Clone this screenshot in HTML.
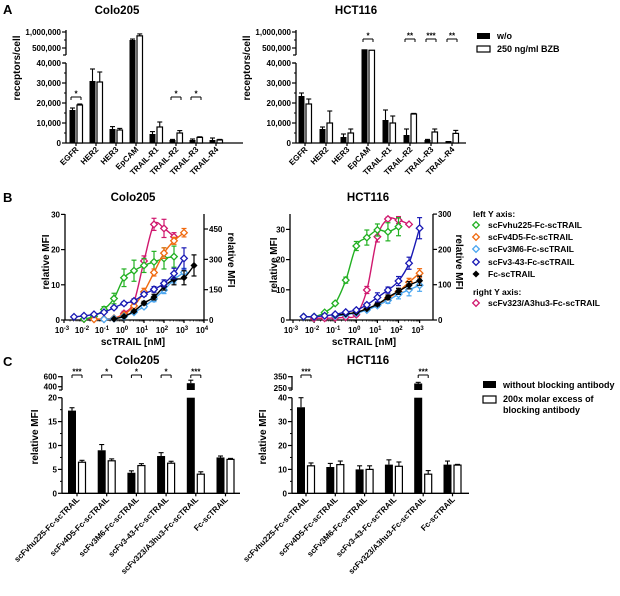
<!DOCTYPE html>
<html><head><meta charset="utf-8"><style>
html,body{margin:0;padding:0;background:#fff;}
svg{display:block;font-family:"Liberation Sans",Arial,sans-serif;font-weight:bold;}
</style></head><body>
<svg id="fig" width="620" height="596" viewBox="0 0 620 596">
<text x="3" y="14" font-size="13">A</text>
<text x="3" y="202" font-size="13">B</text>
<text x="3" y="366" font-size="13">C</text>
<text x="117" y="14" font-size="11.5" text-anchor="middle">Colo205</text>
<text x="356" y="14" font-size="11.5" text-anchor="middle">HCT116</text>
<text x="133" y="201" font-size="11.5" text-anchor="middle">Colo205</text>
<text x="368" y="201" font-size="11.5" text-anchor="middle">HCT116</text>
<text x="137" y="364" font-size="11.5" text-anchor="middle">Colo205</text>
<text x="368" y="364" font-size="11.5" text-anchor="middle">HCT116</text>
<text transform="translate(20,68) rotate(-90)" font-size="10" text-anchor="middle">receptors/cell</text>
<text transform="translate(250,68) rotate(-90)" font-size="10" text-anchor="middle">receptors/cell</text>
<text transform="translate(49,262) rotate(-90)" font-size="10" text-anchor="middle">relative MFI</text>
<text transform="translate(228,260) rotate(90)" font-size="10" text-anchor="middle">relative MFI</text>
<text transform="translate(277,265) rotate(-90)" font-size="10" text-anchor="middle">relative MFI</text>
<text transform="translate(456,262) rotate(90)" font-size="10" text-anchor="middle">relative MFI</text>
<text x="133" y="345" font-size="10" text-anchor="middle">scTRAIL [nM]</text>
<text x="364" y="345" font-size="10" text-anchor="middle">scTRAIL [nM]</text>
<text transform="translate(38,437) rotate(-90)" font-size="10" text-anchor="middle">relative MFI</text>
<text transform="translate(266,437) rotate(-90)" font-size="10" text-anchor="middle">relative MFI</text>
<g>
<rect x="477" y="33" width="13" height="6" fill="#000"/>
<text x="497" y="39" font-size="9">w/o</text>
<rect x="477" y="46" width="13" height="6" fill="#fff" stroke="#000" stroke-width="1.2"/>
<text x="497" y="52" font-size="9">250 ng/ml BZB</text>
</g>
<g>
<rect x="483" y="381" width="13" height="7" fill="#000"/>
<text x="503" y="388" font-size="9">without blocking antibody</text>
<rect x="483" y="396" width="13" height="7" fill="#fff" stroke="#000" stroke-width="1.2"/>
<text x="503" y="402" font-size="9">200x molar excess of</text>
<text x="503" y="413" font-size="9">blocking antibody</text>
</g>
<g id="legB">
<text x="473" y="217" font-size="8.5">left Y axis:</text>
<text x="473" y="295" font-size="8.5">right Y axis:</text>
</g>
</svg>
<script>
// ---------- DATA ----------
const catsA = ['EGFR','HER2','HER3','EpCAM','TRAIL-R1','TRAIL-R2','TRAIL-R3','TRAIL-R4'];
const coloWo = [16500,31000,7000,750000,4500,1500,1500,1500];
const coloWoErr = [1000,6000,1200,30000,1200,300,500,1000];
const coloBzb = [19000,30500,6500,880000,8000,5000,2800,1500];
const coloBzbErr = [500,5000,800,60000,2500,1200,300,300];
const coloSigA = ['*','','','','','*','*',''];
const hctWo = [23500,7000,3000,460000,11500,4000,1500,1000];
const hctWoErr = [1500,1000,1500,8000,5000,3000,300,200];
const hctBzb = [19500,10000,5000,430000,10000,14500,5500,4800];
const hctBzbErr = [2500,6000,2000,5000,3500,300,1500,1500];
const hctSigA = ['','','','*','','**','***','**'];
const tickLowA = [0,10000,20000,30000,40000];
const tickLowALabels = ['0','10,000','20,000','30,000','40,000'];
const tickUpA = [500000,1000000];
const tickUpALabels = ['500,000','1,000,000'];

const seriesNames = ['scFvhu225-Fc-scTRAIL','scFv4D5-Fc-scTRAIL','scFv3M6-Fc-scTRAIL','scFv3-43-Fc-scTRAIL','Fc-scTRAIL','scFv323/A3hu3-Fc-scTRAIL'];
const seriesColors = ['#22b022','#f06a10','#4aa6f0','#1a1ab4','#000000','#d0186e'];
const cGreenX=[-2,-1.5,-1,-0.5,0,0.5,1,1.5,2,2.5];
const cGreenY=[0.3,1,3,6.1,12,14,15.5,16.5,17.5,18];
const cGreenE=[0,0.3,0.8,1.5,2.5,3,2,3,3,3];
const cOrangeX=[-1.5,-1,-0.5,0,0.5,1,1.5,2,2.5,3];
const cOrangeY=[0.2,0.3,0.5,1.5,4,8,13.5,19,22.5,24.8];
const cOrangeE=[0,0,0.2,0.3,0.5,1,1,1.5,1,1.2];
const cLightX=[-1,-0.5,0,0.5,1,1.5,2,2.5,3];
const cLightY=[0.2,0.4,1,2.2,3.8,6,8.5,11.5,13.5];
const cLightE=[0,0,0.2,0.3,0.5,0.8,1,1,1.2];
const cBlueX=[-2.5,-2,-1.5,-1,-0.5,0,0.5,1,1.5,2,2.5,3];
const cBlueY=[0.9,1.2,1.6,2.2,3.5,4.7,5.4,7.3,8.7,10.4,13.2,17.5];
const cBlueE=[0.2,0.2,0.2,0.3,0.4,0.5,0.5,0.6,0.8,1,1.5,3];
const cBlackX=[-0.5,0,0.5,1,1.5,2,2.5,3,3.5];
const cBlackY=[0.3,1,2.5,4.8,6.5,9.5,11.5,12,15.5];
const cBlackE=[0,0,0.3,0.5,0.8,1,1.5,2,3];
const cMagX=[-2,-1.5,-1,-0.5,0,0.5,1,1.5,2,2.5];
const cMagY=[5,5,5,8,33,90,292,473,453,412];
const cMagE=[0,0,0,5,10,15,25,30,45,20];
const hGreenX=[-2.5,-2,-1.5,-1,-0.5,0,0.5,1,1.5,2];
const hGreenY=[1.1,1.1,2.5,5.5,13.2,24.5,27.3,29.8,29.2,30.9];
const hGreenE=[0,0,0.3,0.5,1,1.5,2.5,2,3,3];
const hOrangeX=[-1,-0.5,0,0.5,1,1.5,2,2.5,3];
const hOrangeY=[1.5,2,2.5,3.5,5,7.2,9.4,12.5,15.5];
const hOrangeE=[0.2,0.2,0.3,0.3,0.5,0.8,1,1.3,1.5];
const hLightX=[-1,-0.5,0,0.5,1,1.5,2,2.5,3];
const hLightY=[1.3,1.8,2.3,3.3,4.8,6.5,8.5,10,11.5];
const hLightE=[0.2,0.2,0.3,0.3,0.5,1,1.5,2,2];
const hBlueX=[-2.5,-2,-1.5,-1,-0.5,0,0.5,1,1.5,2,2.5,3];
const hBlueY=[1.1,1.1,1.4,1.9,2.6,3.3,5,7.5,9.9,12.9,18.8,30.4];
const hBlueE=[0.2,0.2,0.2,0.3,0.3,0.4,0.6,1.5,1,1.5,2,3.5];
const hBlackX=[-1,-0.5,0,0.5,1,1.5,2,2.5,3];
const hBlackY=[1.5,2,2.5,3.7,5.2,7.5,9.5,11.5,13];
const hBlackE=[0.2,0.2,0.2,0.3,0.5,0.8,1,1.2,1.5];
const hMagX=[-2,-1.5,-1,-0.5,0,0.5,1,1.5,2,2.5];
const hMagY=[5,5,6,8,15,85,236,286,283,271];
const hMagE=[0,0,0,0,5,10,15,5,10,0];
const tickLeftB=[0,10,20,30];
const tickRightColo=[0,150,300,450];
const tickRightHct=[0,100,200,300];
const decadesColo=[-3,-2,-1,0,1,2,3,4];
const decadesHct=[-3,-2,-1,0,1,2,3];

const catsC = ['scFvhu225-Fc-scTRAIL','scFv4D5-Fc-scTRAIL','scFv3M6-Fc-scTRAIL','scFv3-43-Fc-scTRAIL','scFv323/A3hu3-Fc-scTRAIL','Fc-scTRAIL'];
const coloNoBlock=[17.3,9,4.3,7.8,470,7.5];
const coloNoBlockErr=[0.6,1.2,0.4,0.7,60,0.3];
const coloBlock=[6.5,6.8,5.8,6.3,4.0,7.1];
const coloBlockErr=[0.4,0.4,0.4,0.4,0.5,0.2];
const coloSigC=['***','*','*','*','***',''];
const hctNoBlock=[36,11,10,12,290,12];
const hctNoBlockErr=[4,1.5,1.5,2,10,1.5];
const hctBlock=[11.5,12,10,11.3,8,11.8];
const hctBlockErr=[1.2,1.5,1.5,1.8,1.5,0.3];
const hctSigC=['***','','','','***',''];
const coloTicksC=[0,5,10,15,20]; const coloTicksCUp=[400,600];
const hctTicksC=[0,10,20,30,40]; const hctTicksCUp=[250,350];

// ---------- HELPERS ----------
const NS='http://www.w3.org/2000/svg';
const svg=document.getElementById('fig');
function mk(tag,attrs,parent){const e=document.createElementNS(NS,tag);for(const k in attrs)e.setAttribute(k,attrs[k]);(parent||svg).appendChild(e);return e;}
function line(x1,y1,x2,y2,name,w,col,parent){const l=mk('line',{x1:x1,y1:y1,x2:x2,y2:y2,stroke:col||'#000','stroke-width':w||1.2},parent);


return l;}
function txt(x,y,s,size,anchor,name,parent){const t=mk('text',{x:x,y:y,'font-size':size,'text-anchor':anchor||'start'},parent);t.textContent=s;


return t;}
function errUp(x,ytop,yerr,name,parent,col){if(Math.abs(ytop-yerr)<0.5)return;line(x,ytop,x,yerr,name,1.1,col,parent);line(x-2.5,yerr,x+2.5,yerr,name+'-cap',1.1,col,parent);}
function bracket(c,y,half,s,name){line(c-half,y+3,c-half,y,name,1,'#000');line(c+half,y+3,c+half,y,name,1,'#000');line(c-half,y,c+half,y,name,1,'#000');txt(c,y-0.5,s,8,'middle',name+'-stars');}

// ---------- PANEL A ----------
function panelA(P,wo,woE,bzb,bzbE,sig,sigY){
 const g=mk('g',{});  
 const y=v=> v<=40000 ? 143 - v*0.002 : 48 - (v-500000)*16/500000;
 line(P.ax,143,P.ax,63,'y-axis-lower',1.3,'#000',g);
 line(P.ax,55,P.ax,30,'y-axis-upper',1.3,'#000',g);
 line(P.ax-3,55,P.ax,55,'y-axis-break',1.2,'#000',g);
 line(P.ax-3,63,P.ax,63,'y-axis-break',1.2,'#000',g);
 line(P.ax,143,P.end,143,'x-axis',1.3,'#000',g);
 tickLowA.forEach((v,i)=>{line(P.ax-4,y(v),P.ax,y(v),'y-tick',1.2,'#000',g);txt(P.ax-5,y(v)+3,tickLowALabels[i],8,'end','y-tick-label',g);
  if(i<4){line(P.ax-2,y(v+5000),P.ax,y(v+5000),'y-minor-tick',1,'#000',g);}});
 tickUpA.forEach((v,i)=>{line(P.ax-4,y(v),P.ax,y(v),'y-tick',1.2,'#000',g);txt(P.ax-5,y(v)+3,tickUpALabels[i],8,'end','y-tick-label',g);});
 [750000].forEach(v=>line(P.ax-2,y(v),P.ax,y(v),'y-minor-tick',1,'#000',g));
 catsA.forEach((c,i)=>{
  const t=P.t0+i*P.dt;
  line(t,143,t,146,'x-tick',1.2,'#000',g);
  const b1=mk('rect',{x:t-6.5,y:y(wo[i]),width:6,height:143-y(wo[i]),fill:'#000'},g);
  
  
  const b2=mk('rect',{x:t+1,y:y(bzb[i]),width:5.5,height:143-y(bzb[i]),fill:'#fff',stroke:'#000','stroke-width':1.2},g);
  
  
  errUp(t-3.5,y(wo[i]),y(wo[i]+woE[i]),'error-bar',g);
  errUp(t+3.75,y(bzb[i]),y(bzb[i]+bzbE[i]),'error-bar',g);
  const lb=txt(0,0,c,8,'end','x-label-'+c.toLowerCase(),g);
  lb.setAttribute('transform','translate('+(t+3)+',150) rotate(-45)');
  if(sig[i]) bracket(t,sigY,5,sig[i],'significance-'+c.toLowerCase());
 });
}
panelA({name:'chart-a-colo205',ax:66,t0:76,dt:20,end:243},coloWo,coloWoErr,coloBzb,coloBzbErr,coloSigA,97);
panelA({name:'chart-a-hct116',ax:296,t0:305,dt:21,end:466},hctWo,hctWoErr,hctBzb,hctBzbErr,hctSigA,39);

// ---------- PANEL B ----------
function catmull(pts){let d='M'+pts[0][0]+','+pts[0][1];for(let i=0;i<pts.length-1;i++){const p0=pts[i-1]||pts[i],p1=pts[i],p2=pts[i+1],p3=pts[i+2]||p2;
 const c1=[p1[0]+(p2[0]-p0[0])/6,p1[1]+(p2[1]-p0[1])/6],c2=[p2[0]-(p3[0]-p1[0])/6,p2[1]-(p3[1]-p1[1])/6];
 d+=' C'+c1[0].toFixed(1)+','+c1[1].toFixed(1)+' '+c2[0].toFixed(1)+','+c2[1].toFixed(1)+' '+p2[0].toFixed(1)+','+p2[1].toFixed(1);}return d;}
function panelB(P,series,decs,rticks){
 const g=mk('g',{});  
 const X=l=>P.x0+(l+3)*P.dec, YL=v=>320-v*P.kL, YR=v=>320-v*P.kR;
 line(P.ax,320,P.ax,214,'y-axis-left',1.3,'#000',g);
 line(P.rx,320,P.rx,214,'y-axis-right',1.3,'#000',g);
 line(P.ax,320,P.rx,320,'x-axis',1.3,'#000',g);
 tickLeftB.forEach(v=>{line(P.ax-4,YL(v),P.ax,YL(v),'y-tick',1.2,'#000',g);txt(P.ax-5,YL(v)+3,String(v),8,'end','y-tick-label',g);});
 rticks.forEach(v=>{line(P.rx,YR(v),P.rx+4,YR(v),'y-right-tick',1.2,'#000',g);txt(P.rx+5,YR(v)+3,String(v),8,'start','y-right-tick-label',g);});
 decs.forEach(d=>{const x=X(d);line(x,320,x,323,'x-tick',1.2,'#000',g);
  const t=txt(x-2,333,'10',8,'middle','x-tick-label',g);const s=mk('tspan',{dy:-3,'font-size':6},t);s.textContent=String(d);
  if(d<decs[decs.length-1])for(let k=2;k<10;k++){line(X(d+Math.log10(k)),320,X(d+Math.log10(k)),321.5,'x-minor-tick',0.7,'#000',g);}});
 series.forEach((s,si)=>{
  const Y=s.right?YR:YL;
  const pts=s.x.map((l,i)=>[X(l),Y(s.y[i])]);
  const p=mk('path',{d:catmull(pts),fill:'none',stroke:s.c,'stroke-width':1.4},g);
  
  
  s.x.forEach((l,i)=>{const cx=X(l),cy=Y(s.y[i]);
   if(s.e[i]>0){const ye=Y(s.y[i]+s.e[i]),yl=Y(Math.max(0,s.y[i]-s.e[i]));line(cx,yl,cx,ye,'error-bar-'+s.key,1.2,s.c,g);line(cx-2.5,ye,cx+2.5,ye,'error-cap-'+s.key,1.2,s.c,g);line(cx-2.5,yl,cx+2.5,yl,'error-cap-'+s.key,1.2,s.c,g);}
   const r=s.key==='fc'?2.6:3.3;
   const m=mk('path',{d:'M'+cx+','+(cy-r)+' L'+(cx+r)+','+cy+' L'+cx+','+(cy+r)+' L'+(cx-r)+','+cy+' Z',fill:s.key==='fc'?'#000':'#fff',stroke:s.c,'stroke-width':1.3},g);
   
   
  });
 });
}
function mkSeries(xs,ys,es){const keys=['hu225','4d5','3m6','3-43','fc','323'];return keys.map((k,i)=>({key:k,x:xs[i],y:ys[i],e:es[i],c:seriesColors[i],right:i===5}));}
const coloSeries=mkSeries([cGreenX,cOrangeX,cLightX,cBlueX,cBlackX,cMagX],[cGreenY,cOrangeY,cLightY,cBlueY,cBlackY,cMagY],[cGreenE,cOrangeE,cLightE,cBlueE,cBlackE,cMagE]);
const hctSeries=mkSeries([hGreenX,hOrangeX,hLightX,hBlueX,hBlackX,hMagX],[hGreenY,hOrangeY,hLightY,hBlueY,hBlackY,hMagY],[hGreenE,hOrangeE,hLightE,hBlueE,hBlackE,hMagE]);
const order=[5,0,1,2,4,3];
panelB({name:'chart-b-colo205',x0:64,dec:20,ax:65,rx:204,kL:3.52,kR:0.2022},order.map(i=>coloSeries[i]),decadesColo,tickRightColo);
panelB({name:'chart-b-hct116',x0:293,dec:21.1,ax:290,rx:433,kL:3.02,kR:0.353},order.map(i=>hctSeries[i]),decadesHct,tickRightHct);
const legB=document.getElementById('legB');
const legYs=[228,240,252,265,277,306];
seriesNames.forEach((n,i)=>{const cx=476,cy=legYs[i]-3,r=i===4?2.6:3.3;
 const m=mk('path',{d:'M'+cx+','+(cy-r)+' L'+(cx+r)+','+cy+' L'+cx+','+(cy+r)+' L'+(cx-r)+','+cy+' Z',fill:i===4?'#000':'#fff',stroke:seriesColors[i],'stroke-width':1.3},legB);
 
 
 txt(488,legYs[i],n,8.5,'start','legend-entry-'+i,legB);});

// ---------- PANEL C ----------
function panelC(P,blk,blkE,wht,whtE,sig,ticks,ticksUp){
 const g=mk('g',{});  
 const base=493.3, top=397.7, maxL=ticks[ticks.length-1];
 const y=v=> v<=maxL ? base-v*(base-top)/maxL : P.uy0-(v-ticksUp[0])*P.ku;
 line(P.ax,base,P.ax,top,'y-axis-lower',1.3,'#000',g);
 line(P.ax,390,P.ax,376,'y-axis-upper',1.3,'#000',g);
 line(P.ax-3,390,P.ax,390,'y-axis-break',1.2,'#000',g);
 line(P.ax,base,P.end,base,'x-axis',1.3,'#000',g);
 ticks.forEach((v,i)=>{line(P.ax-4,y(v),P.ax,y(v),'y-tick',1.2,'#000',g);txt(P.ax-5,y(v)+3,String(v),8,'end','y-tick-label',g);
  if(i<ticks.length-1){const m=(v+ticks[i+1])/2;line(P.ax-2,y(m),P.ax,y(m),'y-minor-tick',1,'#000',g);}});
 ticksUp.forEach(v=>{line(P.ax-4,y(v),P.ax,y(v),'y-tick',1.2,'#000',g);txt(P.ax-5,y(v)+3,String(v),8,'end','y-tick-label',g);});
 catsC.forEach((c,i)=>{
  const cc=P.c0+i*P.dc;
  line(cc,base,cc,base+3,'x-tick',1.2,'#000',g);
  const bh=blk[i];
  if(bh>maxL){
   const r1=mk('rect',{x:cc-9,y:top,width:8,height:base-top,fill:'#000'},g);
   
   
   const r2=mk('rect',{x:cc-9,y:y(bh),width:8,height:Math.max(1,390-y(bh)),fill:'#000'},g);
   
   
  } else {
   const r1=mk('rect',{x:cc-9,y:y(bh),width:8,height:base-y(bh),fill:'#000'},g);
   
   
  }
  errUp(cc-5,y(bh),y(bh+blkE[i]),'error-bar',g);
  const w=mk('rect',{x:cc+1.5,y:y(wht[i]),width:7,height:base-y(wht[i]),fill:'#fff',stroke:'#000','stroke-width':1.2},g);
  
  
  errUp(cc+5,y(wht[i]),y(wht[i]+whtE[i]),'error-bar',g);
  const lb=txt(0,0,c,8,'end','x-label-'+i,g);
  lb.setAttribute('transform','translate('+(cc+3)+',500) rotate(-45)');
  if(sig[i]) bracket(cc,375,5,sig[i],'significance-'+i);
 });
}
panelC({name:'chart-c-colo205',ax:62,end:240,c0:77,dc:29.7,uy0:386.7,ku:0.05},coloNoBlock,coloNoBlockErr,coloBlock,coloBlockErr,coloSigC,coloTicksC,coloTicksCUp);
panelC({name:'chart-c-hct116',ax:292,end:469,c0:306,dc:29.3,uy0:388,ku:0.113},hctNoBlock,hctNoBlockErr,hctBlock,hctBlockErr,hctSigC,hctTicksC,hctTicksCUp);
</script>
</body></html>
